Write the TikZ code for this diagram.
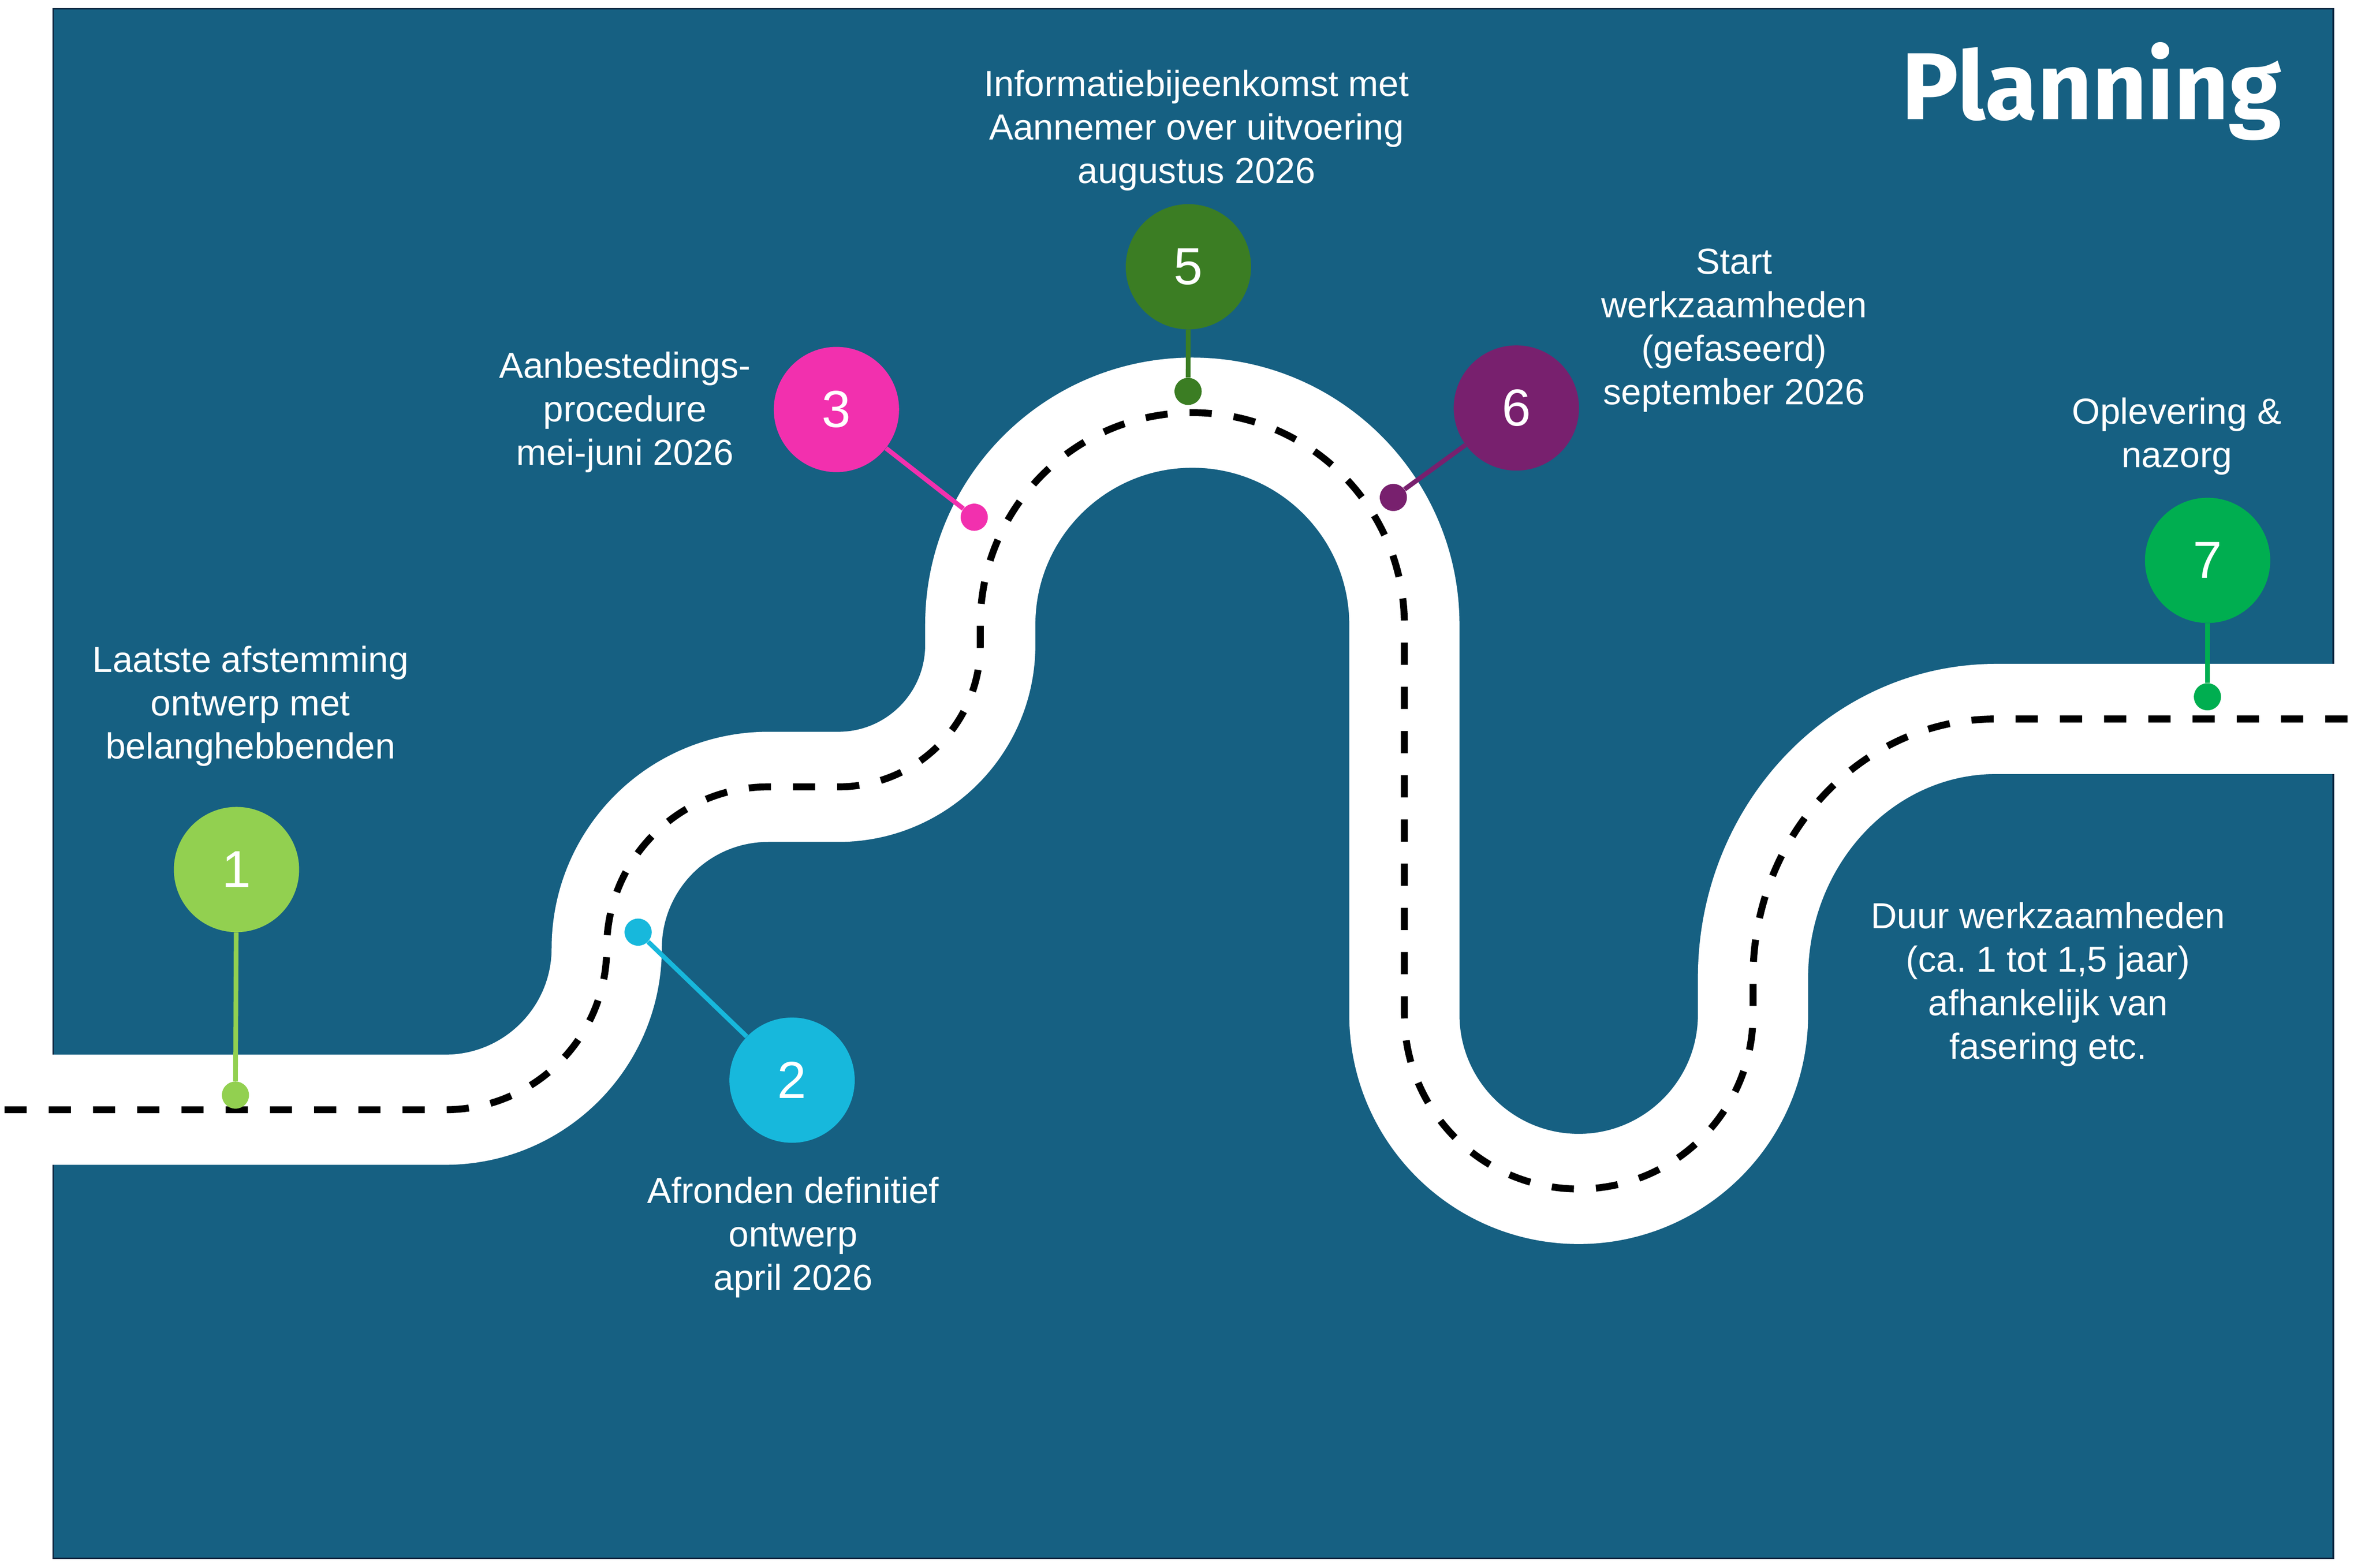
\documentclass[tikz,border=0pt]{standalone}
\usepackage{fontspec}
\setmainfont{Liberation Sans}
\newfontfamily\titlefont{Fira Sans}
\frenchspacing
\definecolor{bg}{HTML}{166082}
\definecolor{rim}{HTML}{0E2841}
\definecolor{cA}{HTML}{92D050}
\definecolor{cB}{HTML}{17B8DC}
\definecolor{cC}{HTML}{F230AE}
\definecolor{cE}{HTML}{3B7D23}
\definecolor{cF}{HTML}{78206E}
\definecolor{cG}{HTML}{00AE50}
\tikzset{
  circ/.style={circle, minimum size=83, inner sep=0, text=white, font=\fontsize{34.5}{34.5}\selectfont},
  pin/.style={circle, minimum size=18, inner sep=0},
  conn/.style={line width=3.1},
  lbl/.style={anchor=base, align=center, inner sep=0, text=white, font=\fontsize{24}{28.8}\selectfont},
  roadstyle/.style={white, line width=73},
  centerline/.style={black, line width=4.6, dash pattern=on 14.7 off 14.6}
}
\begin{document}
\begin{tikzpicture}[x=1pt,y=-1pt]
\useasboundingbox (0,0) rectangle (1567,1039);
\fill[white] (0,0) rectangle (1567,1039);
\draw[rim, line width=1, fill=bg] (35.2,5.8) rectangle (1546,1032.8);
% road
\draw[roadstyle] (-2,735.5) -- (295,735.5)
  arc[start angle=90, end angle=0, radius=107]
  arc[start angle=180, end angle=270, radius=107]
  -- (555.5,521.5)
  arc[start angle=90, end angle=0, radius=94]
  -- (649.5,414)
  arc[start angle=180, end angle=360, radius=140.5]
  -- (930.5,672.5)
  arc[start angle=180, end angle=0, radius=115.5]
  -- (1161.5,648)
  arc[start angle=180, end angle=270, x radius=161, y radius=171.5]
  -- (1569,476.5);
\draw[centerline] (3,735.5) -- (295,735.5)
  arc[start angle=90, end angle=0, radius=107]
  arc[start angle=180, end angle=270, radius=107]
  -- (555.5,521.5)
  arc[start angle=90, end angle=0, radius=94]
  -- (649.5,414)
  arc[start angle=180, end angle=360, radius=140.5]
  -- (930.5,672.5)
  arc[start angle=180, end angle=0, radius=115.5]
  -- (1161.5,648)
  arc[start angle=180, end angle=270, x radius=161, y radius=171.5]
  -- (1560,476.5);
% title
\node[anchor=base east, inner sep=0, text=white, font=\titlefont\bfseries\fontsize{63}{63}\selectfont] (title) at (1511.7,79.1) {Planning};
% markers
\node[pin, fill=cA] (d1) at (156,725.8) {};
\node[pin, fill=cB] (d2) at (422.8,617.8) {};
\node[pin, fill=cC] (d3) at (645.5,342.8) {};
\node[pin, fill=cE] (d5) at (787.2,259.4) {};
\node[pin, fill=cF] (d6) at (923.2,329.7) {};
\node[pin, fill=cG] (d7) at (1462.6,461.8) {};
\node[circ, fill=cA] (n1) at (156.7,576.3) {1};
\node[circ, fill=cB] (n2) at (524.8,715.9) {2};
\node[circ, fill=cC] (n3) at (554.2,271.4) {3};
\node[circ, fill=cE] (n5) at (787.4,176.8) {5};
\node[circ, fill=cF] (n6) at (1004.7,270.4) {6};
\node[circ, fill=cG] (n7) at (1462.7,371.4) {7};
\draw[conn, cA] (n1) -- (d1);
\draw[conn, cB] (n2) -- (d2);
\draw[conn, cC] (n3) -- (d3);
\draw[conn, cE] (n5) -- (d5);
\draw[conn, cF] (n6) -- (d6);
\draw[conn, cG] (n7) -- (d7);
% labels (anchor = baseline of the last line)
\node[lbl] (t1) at (166,503.0) {Laatste afstemming\\ontwerp met\\belanghebbenden};
\node[lbl] (t2) at (525.5,855.0) {Afronden definitief\\ontwerp\\april 2026};
\node[lbl] (t3) at (414.1,308.2) {Aanbestedings-\\procedure\\mei-juni 2026};
\node[lbl] (t5) at (792.8,121.5) {Informatiebijeenkomst met\\Aannemer over uitvoering\\augustus 2026};
\node[lbl] (t6) at (1149,268.0) {Start\\werkzaamheden\\(gefaseerd)\\september 2026};
\node[lbl] (t7) at (1442.3,309.7) {Oplevering \&\\nazorg};
\node[lbl] (t8) at (1357,701.7) {Duur werkzaamheden\\(ca. 1 tot 1,5 jaar)\\afhankelijk van\\fasering etc.};
\end{tikzpicture}
\end{document}
